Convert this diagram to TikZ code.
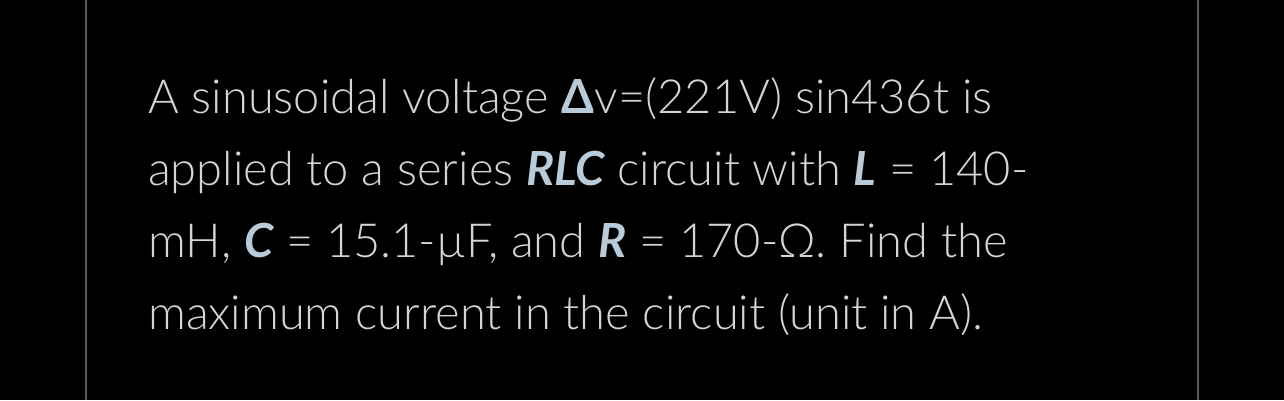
\documentclass[tikz,border=0pt]{standalone}
\usepackage{fontspec}
\setmainfont{Lato}[UprightFont=* Light, ItalicFont=* Light Italic, BoldFont=* Bold, BoldItalicFont=* Bold Italic]
\definecolor{txt}{HTML}{D4D4D4}
\definecolor{bld}{HTML}{B9CAD8}
\definecolor{rule}{HTML}{5A5A5A}
\newcommand{\hb}[1]{{\color{bld}\bfseries\itshape #1}}
\begin{document}
\begin{tikzpicture}[x=1pt,y=-1pt,
  ln/.style={anchor=base west,inner sep=0pt,text=txt,font=\fontsize{47}{54}\selectfont}]
\fill[black] (0,0) rectangle (1284,400);
\useasboundingbox (0,0) rectangle (1284,400);
\draw[rule,line width=2] (86,0) coordinate (a1) -- (86,400) coordinate (a2);
\draw[rule,line width=2] (1198,0) coordinate (b1) -- (1198,400) coordinate (b2);
\node[ln] (l1) at (148,113) {A sinusoidal voltage {\color{bld}\bfseries Δ}v=(221V) sin436t is};
\node[ln] (l2) at (148,185) {applied to a series \hb{RLC} circuit with \hb{L} = 140-};
\node[ln] (l3) at (148,257) {mH, \hb{C} = 15.1-µF, and \hb{R} = 170-Ω. Find the};
\node[ln] (l4) at (148,329) {maximum current in the circuit (unit in A).};
\end{tikzpicture}
\end{document}
